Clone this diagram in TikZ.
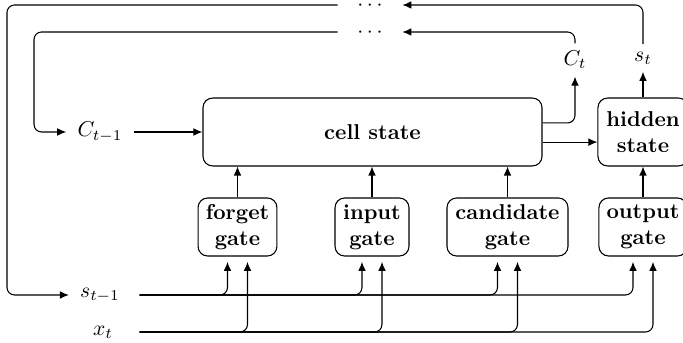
\documentclass[tikz,border=0pt]{standalone}
\usetikzlibrary{arrows.meta}
\begin{document}
\begin{tikzpicture}[x=0.4651pt,y=-0.4651pt,
  box/.style={draw,rounded corners=4.5pt,align=center,inner sep=2pt,font=\bfseries},
  gatebox/.style={box,minimum height=27pt},
  lbl/.style={inner sep=5pt},
  dotsnode/.style={inner xsep=9pt,inner ysep=0pt,text height=5pt,text depth=0pt},
  arr/.style={-{Latex[length=4.2pt,width=3.6pt]}},
  wire/.style={rounded corners=3.5pt},
  line width=0.5pt]
\useasboundingbox (0,0) rectangle (683,343);

% main blocks
\node[box,minimum width=157.7pt,minimum height=31.6pt] (cell) at (372.5,132) {cell state};
\node[box,minimum width=41.9pt,minimum height=31.6pt] (hidden) at (643,132) {hidden\\state};

% gates
\node[gatebox,minimum width=36.7pt] (forget) at (237.5,227) {forget\\gate};
\node[gatebox,minimum width=34.4pt] (input) at (372,227) {input\\gate};
\node[gatebox,minimum width=56.3pt] (cand) at (507.5,227) {candidate\\gate};
\node[gatebox,minimum width=41pt] (output) at (643,227) {output\\gate};

% labels
\node[lbl] (Cprev) at (100,132) {$C_{t-1}$};
\node[lbl] (sprev) at (100,295) {$s_{t-1}$};
\node[lbl] (xt) at (103,332) {$x_t$};
\node[lbl,inner sep=3.3pt] (Ct) at (575,60) {$C_t$};
\node[lbl,inner sep=3.3pt] (st) at (643,58) {$s_t$};
\node[dotsnode] (dotsA) at (370,5) {$\cdots$};
\node[dotsnode] (dotsB) at (370,32) {$\cdots$};

% loop corners and start of the input lines
\coordinate (outer) at (7,5);
\coordinate (inner) at (34,32);
\coordinate (sstart) at ([xshift=4pt]sprev.east);
\coordinate (xstart) at (sstart |- xt);

% recurrent loops
\draw[arr,wire] (dotsA.west) -- (outer) |- (sprev.west);
\draw[arr,wire] (dotsB.west) -- (inner) |- (Cprev.west);
\draw[arr,wire] (st.north) |- (dotsA.east);
\draw[arr,wire] (Ct.north) |- (dotsB.east);

% cell state flow
\draw[arr] (Cprev.east) -- (cell.west);
\draw[arr,wire] ([yshift=4.2pt]cell.east) -| (Ct.south);
\draw[arr] ([yshift=-4.7pt]cell.east) -- ([yshift=-4.7pt]hidden.west);
\draw[arr] (hidden.north) -- (st.south);

% gates into cell / hidden state
\draw[arr] (forget.north) -- (forget.north |- cell.south);
\draw[arr] (input.north) -- (input.north |- cell.south);
\draw[arr] (cand.north) -- (cand.north |- cell.south);
\draw[arr] (output.north) -- (hidden.south);

% inputs to the gates
\foreach \g in {forget,input,cand,output}{
  \draw[arr,wire,shorten >=2.5pt] (sstart) -| ([xshift=-4.65pt]\g.south);
  \draw[arr,wire,shorten >=2.5pt] (xstart) -| ([xshift=4.65pt]\g.south);
}
\end{tikzpicture}
\end{document}
